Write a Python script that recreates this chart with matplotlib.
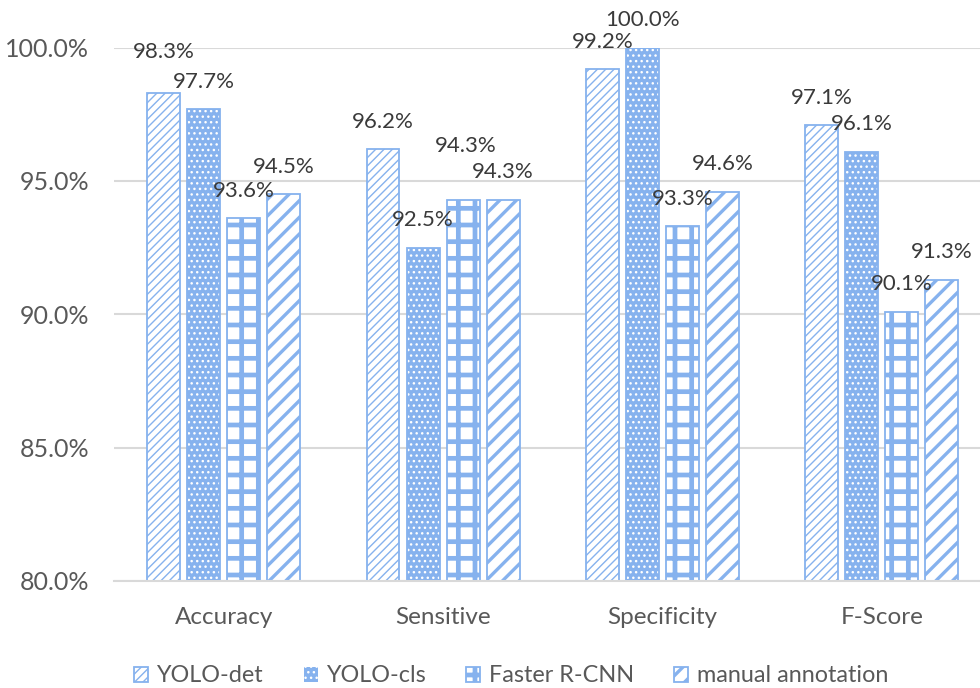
import numpy as np
import matplotlib
matplotlib.use("Agg")
import matplotlib.pyplot as plt
from matplotlib.ticker import FuncFormatter

plt.rcParams['font.family'] = ['Lato', 'DejaVu Sans']

categories = ["Accuracy", "Sensitive", "Specificity", "F-Score"]
series_names = ["YOLO-det", "YOLO-cls", "Faster R-CNN", "manual annotation"]
yolo_det = [98.3, 96.2, 99.2, 97.1]
yolo_cls = [97.7, 92.5, 100.0, 96.1]
faster_rcnn = [93.6, 94.3, 93.3, 90.1]
manual_annotation = [94.5, 94.3, 94.6, 91.3]
y_ticks = [80, 85, 90, 95, 100]

series_values = [yolo_det, yolo_cls, faster_rcnn, manual_annotation]

BLUE = "#86B2EE"
GRID = "#D9D9D9"
LABEL_COLOR = "#3A3A3A"
TICK_COLOR = "#595959"


def use_hatch_width(artist, lw):
    """Give one patch its own hatch line width."""
    if hasattr(artist, "set_hatch_linewidth"):
        artist.set_hatch_linewidth(lw)
    orig = artist.draw

    def draw(renderer, _orig=orig, _lw=lw):
        with plt.rc_context({'hatch.linewidth': _lw}):
            _orig(renderer)
    artist.draw = draw


fig = plt.figure(figsize=(9.8, 6.88), dpi=100)
ax = fig.add_axes([114 / 980, 107 / 688, 877.5 / 980, 533.5 / 688])

x = np.arange(len(categories))
step = 0.1824
width = 0.150
offsets = (np.arange(len(series_names)) - 1.5) * step

# hatch styles per series: (hatch, hatch linewidth, solid fill)
styles = [
    ("////", 1.0, False),
    ("...", 1.0, True),
    ("+", 3.4, False),
    ("//", 2.4, False),
]

handles = []
for i, (vals, name) in enumerate(zip(series_values, series_names)):
    hatch, hlw, solid = styles[i]
    xs = x + offsets[i]
    heights = np.array(vals) - 80
    if solid:
        bars = ax.bar(xs, heights, width, bottom=80, color=BLUE,
                      edgecolor="white", hatch=hatch, linewidth=0,
                      label=name, zorder=3)
        ax.bar(xs, heights, width, bottom=80, facecolor="none",
               edgecolor=BLUE, linewidth=1.3, zorder=4)
    else:
        bars = ax.bar(xs, heights, width, bottom=80, facecolor="white",
                      edgecolor=BLUE, hatch=hatch, linewidth=1.3,
                      label=name, zorder=3)
    for p in bars:
        use_hatch_width(p, hlw)
    handles.append(bars)

# value labels above each bar; a few are nudged to avoid overlaps
label_nudge = {(0, 0): (0, 10), (2, 1): (2, 19)}
for i, vals in enumerate(series_values):
    for j, v in enumerate(vals):
        dx, dy = label_nudge.get((i, j), (0, 0))
        ax.annotate(f"{v:.1f}%", xy=(x[j] + offsets[i], v),
                    xytext=(dx, 19.5 + dy), textcoords="offset points",
                    ha="center", va="center", fontsize=16,
                    color=LABEL_COLOR, zorder=6, annotation_clip=False)

ax.set_xlim(-0.5, len(categories) - 0.5)
ax.set_ylim(80, 100)
ax.set_yticks(y_ticks)
ax.yaxis.set_major_formatter(FuncFormatter(lambda v, p: f"{v:.1f}%"))
ax.set_xticks(x)
ax.set_xticklabels(categories)
ax.tick_params(axis="both", length=0, labelsize=17.5, labelcolor=TICK_COLOR)
ax.tick_params(axis="y", labelsize=18, pad=18)
ax.tick_params(axis="x", pad=19)

ax.grid(axis="y", color=GRID, linewidth=1.5, zorder=0)
ax.set_axisbelow(True)
for side in ["top", "right", "left"]:
    ax.spines[side].set_visible(False)
ax.spines["bottom"].set_color(GRID)
ax.spines["bottom"].set_linewidth(1.5)
ax.spines["bottom"].set_zorder(5)

leg = fig.legend(handles=handles, labels=series_names, loc="center",
                 bbox_to_anchor=(511 / 980, 12 / 688), ncol=4, frameon=False,
                 fontsize=16.8, labelcolor=TICK_COLOR, handlelength=0.6,
                 handleheight=0.6, handletextpad=0.35, columnspacing=1.75)
for p, (_, hlw, _) in zip(leg.get_patches(), styles):
    use_hatch_width(p, hlw)

fig.savefig("out.png", dpi=100)
